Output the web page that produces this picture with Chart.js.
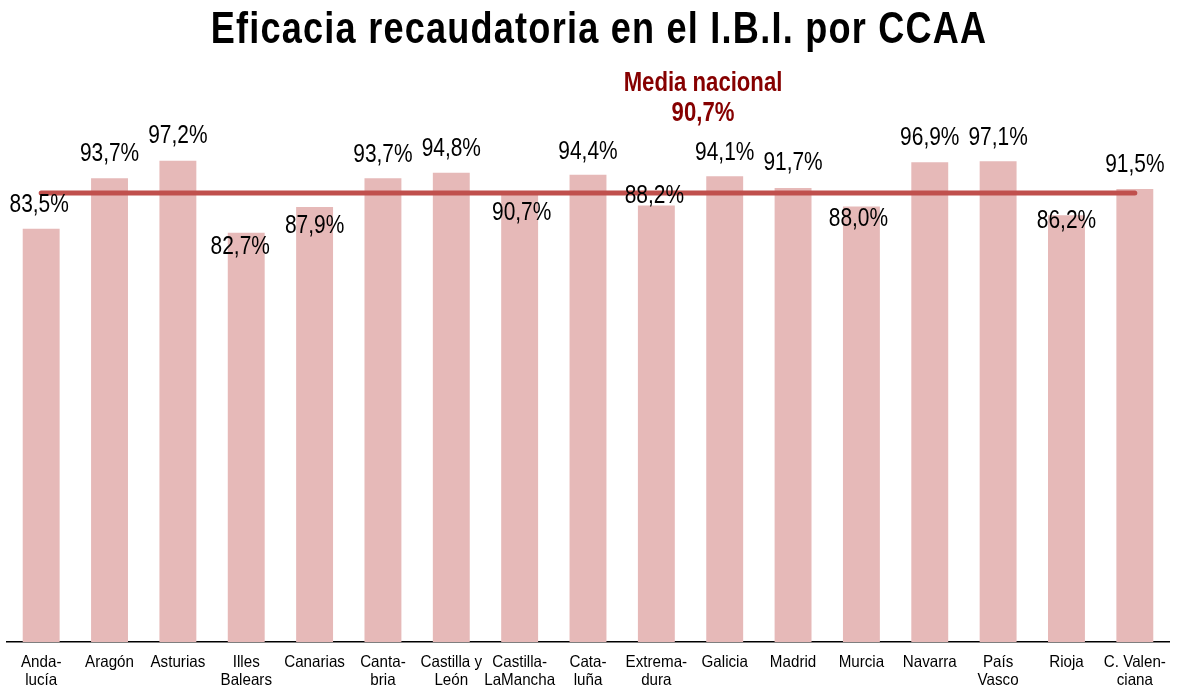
<!DOCTYPE html>
<html>
<head>
<meta charset="utf-8">
<script src="https://cdn.jsdelivr.net/npm/chart.js@4.4.1/dist/chart.umd.min.js"></script>
<style>
    html, body { margin: 0; padding: 0; background: #fff; }
    #wrap { width: 1178px; height: 690px; }
</style>
</head>
<body>
<div id="wrap"><canvas id="grafico"></canvas></div>
<script>
// === DATOS ===
const titulo = 'Eficacia recaudatoria en el I.B.I. por CCAA';
const regiones = [
    ['Anda-', 'lucía'], ['Aragón'], ['Asturias'], ['Illes', 'Balears'], ['Canarias'],
    ['Canta-', 'bria'], ['Castilla y', 'León'], ['Castilla-', 'LaMancha'], ['Cata-', 'luña'],
    ['Extrema-', 'dura'], ['Galicia'], ['Madrid'], ['Murcia'], ['Navarra'], ['País', 'Vasco'],
    ['Rioja'], ['C. Valen-', 'ciana']
];
const eficacia = [83.5, 93.7, 97.2, 82.7, 87.9, 93.7, 94.8, 90.7, 94.4, 88.2, 94.1, 91.7, 88.0, 96.9, 97.1, 86.2, 91.5];
const mediaNacional = 90.7;
const mediaLinea = [90.7, 90.7, 90.7, 90.7, 90.7, 90.7, 90.7, 90.7, 90.7, 90.7, 90.7, 90.7, 90.7, 90.7, 90.7, 90.7, 90.7];

// desplazamiento de cada etiqueta respecto a la parte alta de la barra (px)
const ajusteEtiqueta = [
    [-2, -24], [0, -24], [0, -25], [-6, 14], [0, 19], [0, -23], [0, -24], [2, 20], [0, -23],
    [-2, -9], [0, -23], [0, -25], [-3, 13], [0, -24], [0, -23], [0, 6], [0, -24]
];

// No hay Arial Narrow: se estrecha Liberation Sans en horizontal
const FUENTE = '"Liberation Sans", Arial, sans-serif';
const fmt = v => v.toFixed(1).replace('.', ',') + '%';

function textoEstrecho(ctx, txt, x, y, sx) {
    ctx.save();
    ctx.translate(x, y);
    ctx.scale(sx, 1);
    ctx.fillText(txt, 0, 0);
    ctx.restore();
}

const textos = {
    id: 'textos',
    afterDatasetsDraw(chart) {
        const ctx = chart.ctx;
        const meta = chart.getDatasetMeta(1);
        const xScale = chart.scales.x;
        const abajo = chart.chartArea.bottom;
        ctx.save();
        ctx.fillStyle = '#000';
        ctx.textAlign = 'center';

        // valores sobre las barras
        ctx.textBaseline = 'middle';
        ctx.font = '25.5px ' + FUENTE;
        meta.data.forEach((bar, i) => {
            const [dx, dy] = ajusteEtiqueta[i];
            textoEstrecho(ctx, fmt(eficacia[i]), bar.x + dx, bar.y + dy, 0.82);
        });

        // etiquetas del eje x
        ctx.textBaseline = 'alphabetic';
        ctx.font = '16.5px ' + FUENTE;
        regiones.forEach((lineas, i) => {
            const x = xScale.getPixelForTick(i);
            lineas.forEach((l, j) => textoEstrecho(ctx, l, x, abajo + 25 + j * 18, 0.92));
        });

        // título
        ctx.font = 'bold 44px ' + FUENTE;
        ctx.letterSpacing = '1.5px';
        textoEstrecho(ctx, titulo, 599, 43, 0.82);
        ctx.letterSpacing = '0px';

        // media nacional
        ctx.font = 'bold 27px ' + FUENTE;
        ctx.fillStyle = '#860000';
        textoEstrecho(ctx, 'Media nacional', 703, 91, 0.82);
        textoEstrecho(ctx, fmt(mediaNacional), 703, 121, 0.82);
        ctx.restore();
    }
};

new Chart(document.getElementById('grafico'), {
    data: {
        labels: regiones,
        datasets: [
            {
                type: 'line',
                data: mediaLinea,
                borderColor: '#c0504d',
                borderWidth: 5,
                borderCapStyle: 'round',
                pointRadius: 0,
                order: 0
            },
            {
                type: 'bar',
                data: eficacia,
                backgroundColor: '#e6b9b8',
                categoryPercentage: 1,
                barPercentage: 0.54,
                order: 1
            }
        ]
    },
    options: {
        responsive: true,
        maintainAspectRatio: false,
        animation: false,
        layout: { padding: { left: 7, right: 9, top: 147, bottom: 48 } },
        plugins: {
            legend: { display: false },
            tooltip: { enabled: false }
        },
        scales: {
            x: {
                grid: { display: false, drawTicks: false },
                border: { display: true, color: '#000', width: 1.5 },
                ticks: { display: false }
            },
            y: {
                display: false,
                min: 0,
                max: 100
            }
        }
    },
    plugins: [textos]
});
</script>
</body>
</html>
